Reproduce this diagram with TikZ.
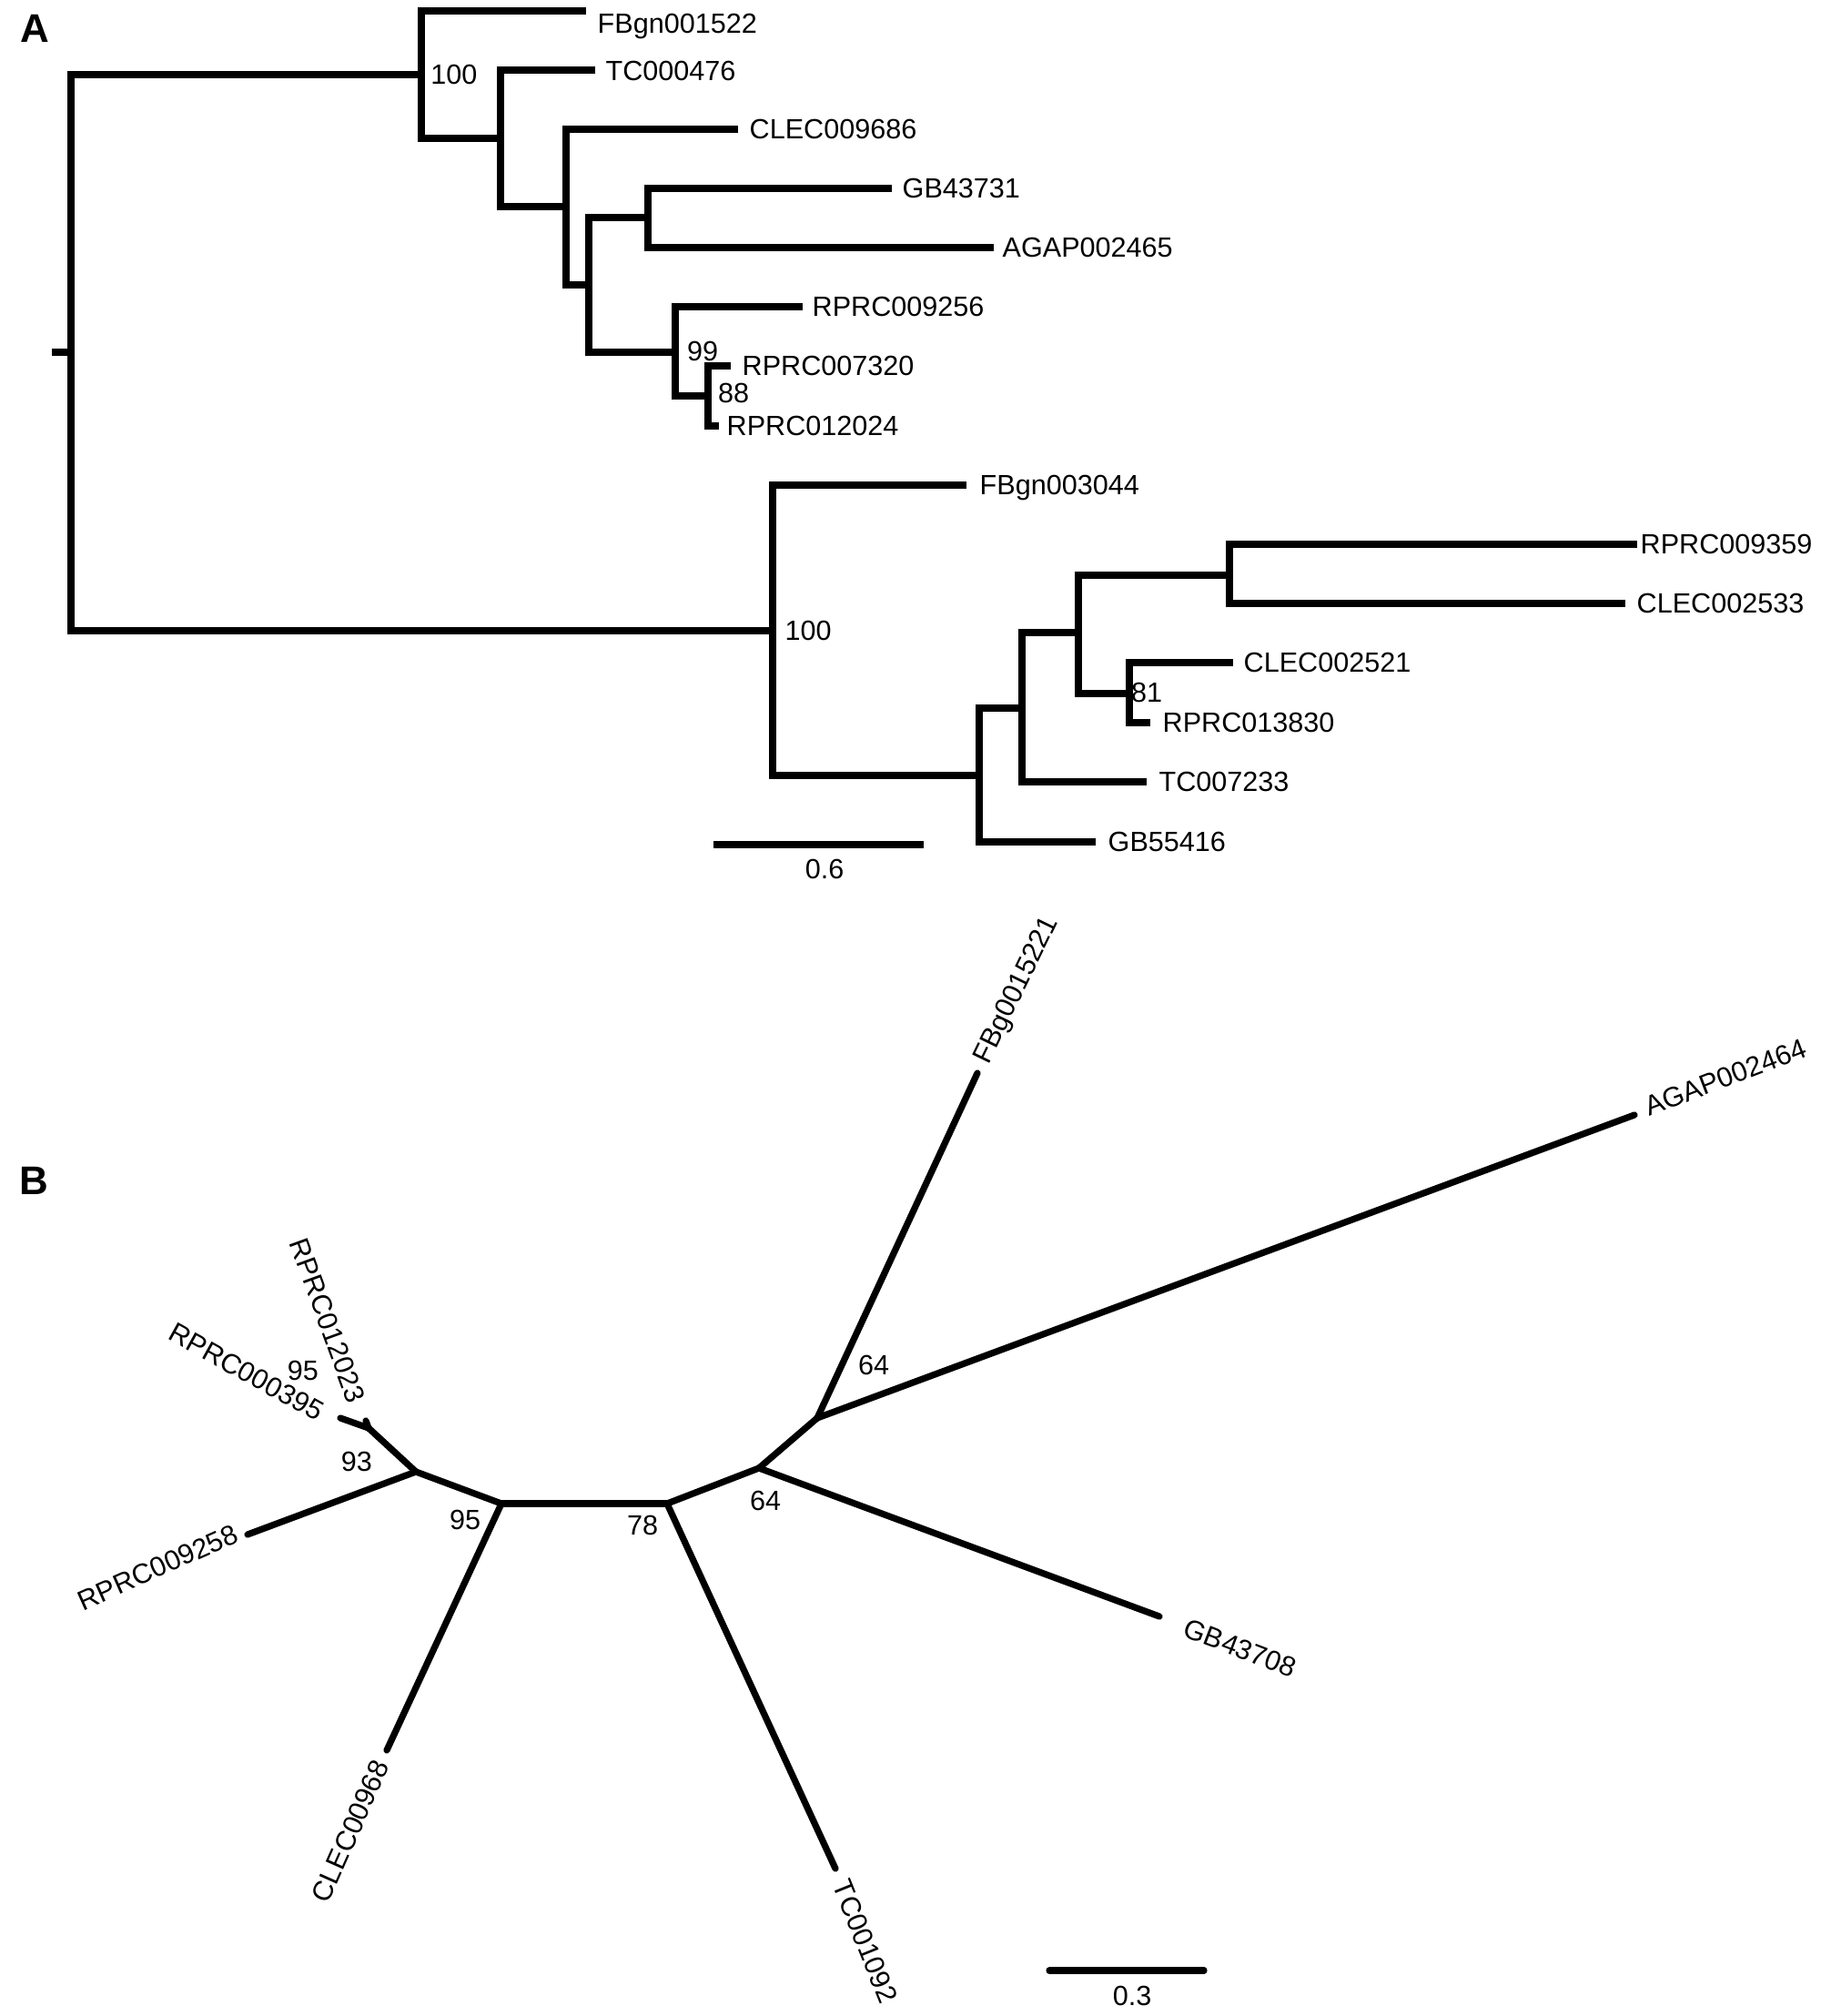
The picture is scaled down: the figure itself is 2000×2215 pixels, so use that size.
\documentclass[tikz,border=0pt]{standalone}
\usepackage{fontspec}
\setmainfont{Liberation Sans}
\begin{document}
\begin{tikzpicture}[x=0.1mm,y=-0.1mm,
  lbl/.style={inner sep=0pt, font=\fontsize{8.7pt}{10pt}\selectfont, text height=6.2pt, text depth=0pt},
  panel/.style={inner sep=0pt, font=\fontsize{12.5pt}{14pt}\selectfont\bfseries, text height=8.9pt, text depth=0pt},
  treeA/.style={line width=0.8mm, line cap=butt, line join=miter},
  treeB/.style={line width=0.72mm, line cap=round, line join=round}]
\fill[white] (0,0) rectangle (2000,2215);
\useasboundingbox (0,0) rectangle (2000,2215);

% ---------------- Panel A ----------------
\node[panel] (pA) at (38,31) {A};
\coordinate (Rs) at (57,387);
\coordinate (R) at (78,387);
\coordinate (N1) at (463,82);
\coordinate (N2) at (550,152);
\coordinate (N3) at (622,227);
\coordinate (N4) at (647,313);
\coordinate (N5) at (712,239);
\coordinate (N6) at (742,387);
\coordinate (N7) at (778,435);
\coordinate (N8) at (849,693);
\coordinate (N9) at (1076,852);
\coordinate (N10) at (1123,778);
\coordinate (N11) at (1185,695);
\coordinate (N12) at (1351,632);
\coordinate (N13) at (1241,762);
\coordinate (tFBgn1522) at (644,12);
\coordinate (tTC476) at (654,77);
\coordinate (tCLEC9686) at (811,142);
\coordinate (tGB43731) at (980,207);
\coordinate (tAGAP2465) at (1092,272);
\coordinate (tRPRC9256) at (882,337);
\coordinate (tRPRC7320) at (803,402);
\coordinate (tRPRC12024) at (790,468);
\coordinate (tFBgn3044) at (1062,533);
\coordinate (tRPRC9359) at (1799,598);
\coordinate (tCLEC2533) at (1786,663);
\coordinate (tCLEC2521) at (1355,728);
\coordinate (tRPRC13830) at (1264,794);
\coordinate (tTC7233) at (1260,859);
\coordinate (tGB55416) at (1204,925);

\draw[treeA] (Rs) -- (R);
\draw[treeA] (N1) -| (R) |- (N8);
\draw[treeA] (tFBgn1522) -| (N1) |- (N2);
\draw[treeA] (tTC476) -| (N2) |- (N3);
\draw[treeA] (tCLEC9686) -| (N3) |- (N4);
\draw[treeA] (N5) -| (N4) |- (N6);
\draw[treeA] (tGB43731) -| (N5) |- (tAGAP2465);
\draw[treeA] (tRPRC9256) -| (N6) |- (N7);
\draw[treeA] (tRPRC7320) -| (N7) |- (tRPRC12024);
\draw[treeA] (tFBgn3044) -| (N8) |- (N9);
\draw[treeA] (N10) -| (N9) |- (tGB55416);
\draw[treeA] (N11) -| (N10) |- (tTC7233);
\draw[treeA] (N12) -| (N11) |- (N13);
\draw[treeA] (tRPRC9359) -| (N12) |- (tCLEC2533);
\draw[treeA] (tCLEC2521) -| (N13) |- (tRPRC13830);

\node[lbl, anchor=west] (FBgn001522) at (656,26) {FBgn001522};
\node[lbl, anchor=west] (TC000476) at (665,78) {TC000476};
\node[lbl, anchor=west] (CLEC009686) at (823,142) {CLEC009686};
\node[lbl, anchor=west] (GB43731) at (991,207) {GB43731};
\node[lbl, anchor=west] (AGAP002465) at (1101,272) {AGAP002465};
\node[lbl, anchor=west] (RPRC009256) at (892,337) {RPRC009256};
\node[lbl, anchor=west] (RPRC007320) at (815,402) {RPRC007320};
\node[lbl, anchor=west] (RPRC012024) at (798,468) {RPRC012024};
\node[lbl, anchor=west] (FBgn003044) at (1076,533) {FBgn003044};
\node[lbl, anchor=west] (RPRC009359) at (1802,598) {RPRC009359};
\node[lbl, anchor=west] (CLEC002533) at (1798,663) {CLEC002533};
\node[lbl, anchor=west] (CLEC002521) at (1366,728) {CLEC002521};
\node[lbl, anchor=west] (RPRC013830) at (1277,794) {RPRC013830};
\node[lbl, anchor=west] (TC007233) at (1273,859) {TC007233};
\node[lbl, anchor=west] (GB55416) at (1217,925) {GB55416};

\node[lbl] (bs100a) at (499,82) {100};
\node[lbl] (bs99) at (772,386) {99};
\node[lbl] (bs88) at (806,432) {88};
\node[lbl] (bs100b) at (888,693) {100};
\node[lbl] (bs81) at (1260,761) {81};

\coordinate (sbA1) at (784,928);
\coordinate (sbA2) at (1015,928);
\draw[treeA] (sbA1) -- (sbA2);
\node[lbl] (scaleA) at (906,955) {0.6};

% ---------------- Panel B ----------------
\node[panel] (pB) at (37,1297) {B};
\coordinate (Na) at (551,1652);
\coordinate (Nb) at (733,1652);
\coordinate (Nc) at (457,1617);
\coordinate (Nd) at (834,1613);
\coordinate (Ne) at (898,1558);
\coordinate (Nf) at (405,1569);
\coordinate (tR395) at (374,1558);
\coordinate (tR12023) at (402,1561);
\coordinate (tR9258) at (272,1686);
\coordinate (tCLEC968) at (425,1923);
\coordinate (tTC1092) at (918,2053);
\coordinate (tGB43708) at (1274,1776);
\coordinate (tAGAP2464) at (1796,1225);
\coordinate (tFBg15221) at (1074,1179);

\draw[treeB] (Na) -- (Nb);
\draw[treeB] (Na) -- (Nc);
\draw[treeB] (Na) -- (tCLEC968);
\draw[treeB] (Nb) -- (Nd);
\draw[treeB] (Nb) -- (tTC1092);
\draw[treeB] (Nd) -- (Ne);
\draw[treeB] (Nd) -- (tGB43708);
\draw[treeB] (Ne) -- (tFBg15221);
\draw[treeB] (Ne) -- (tAGAP2464);
\draw[treeB] (Nc) -- (tR9258);
\draw[treeB] (Nc) -- (Nf);
\draw[treeB] (Nf) -- (tR395);
\draw[treeB] (Nf) -- (tR12023);

\node[lbl, anchor=east, rotate=-29] (RPRC000395) at (354,1553) {RPRC000395};
\node[lbl, anchor=east, rotate=-70] (RPRC012023) at (393,1540) {RPRC012023};
\node[lbl, anchor=east, rotate=24] (RPRC009258) at (260,1683) {RPRC009258};
\node[lbl, anchor=east, rotate=66] (CLEC00968) at (419,1935) {CLEC00968};
\node[lbl, anchor=west, rotate=-68] (TC001092) at (924,2066) {TC001092};
\node[lbl, anchor=west, rotate=-21] (GB43708) at (1302,1787) {GB43708};
\node[lbl, anchor=west, rotate=21] (AGAP002464) at (1808,1217) {AGAP002464};
\node[lbl, anchor=west, rotate=64] (FBg0015221) at (1076,1166) {FBg0015221};

\node[lbl] (bs95a) at (333,1506) {95};
\node[lbl] (bs93) at (392,1606) {93};
\node[lbl] (bs95b) at (511,1670) {95};
\node[lbl] (bs78) at (706,1676) {78};
\node[lbl] (bs64a) at (841,1649) {64};
\node[lbl] (bs64b) at (960,1500) {64};

\coordinate (sbB1) at (1153,2165);
\coordinate (sbB2) at (1323,2165);
\draw[treeB] (sbB1) -- (sbB2);
\node[lbl] (scaleB) at (1244,2193) {0.3};
\end{tikzpicture}
\end{document}
